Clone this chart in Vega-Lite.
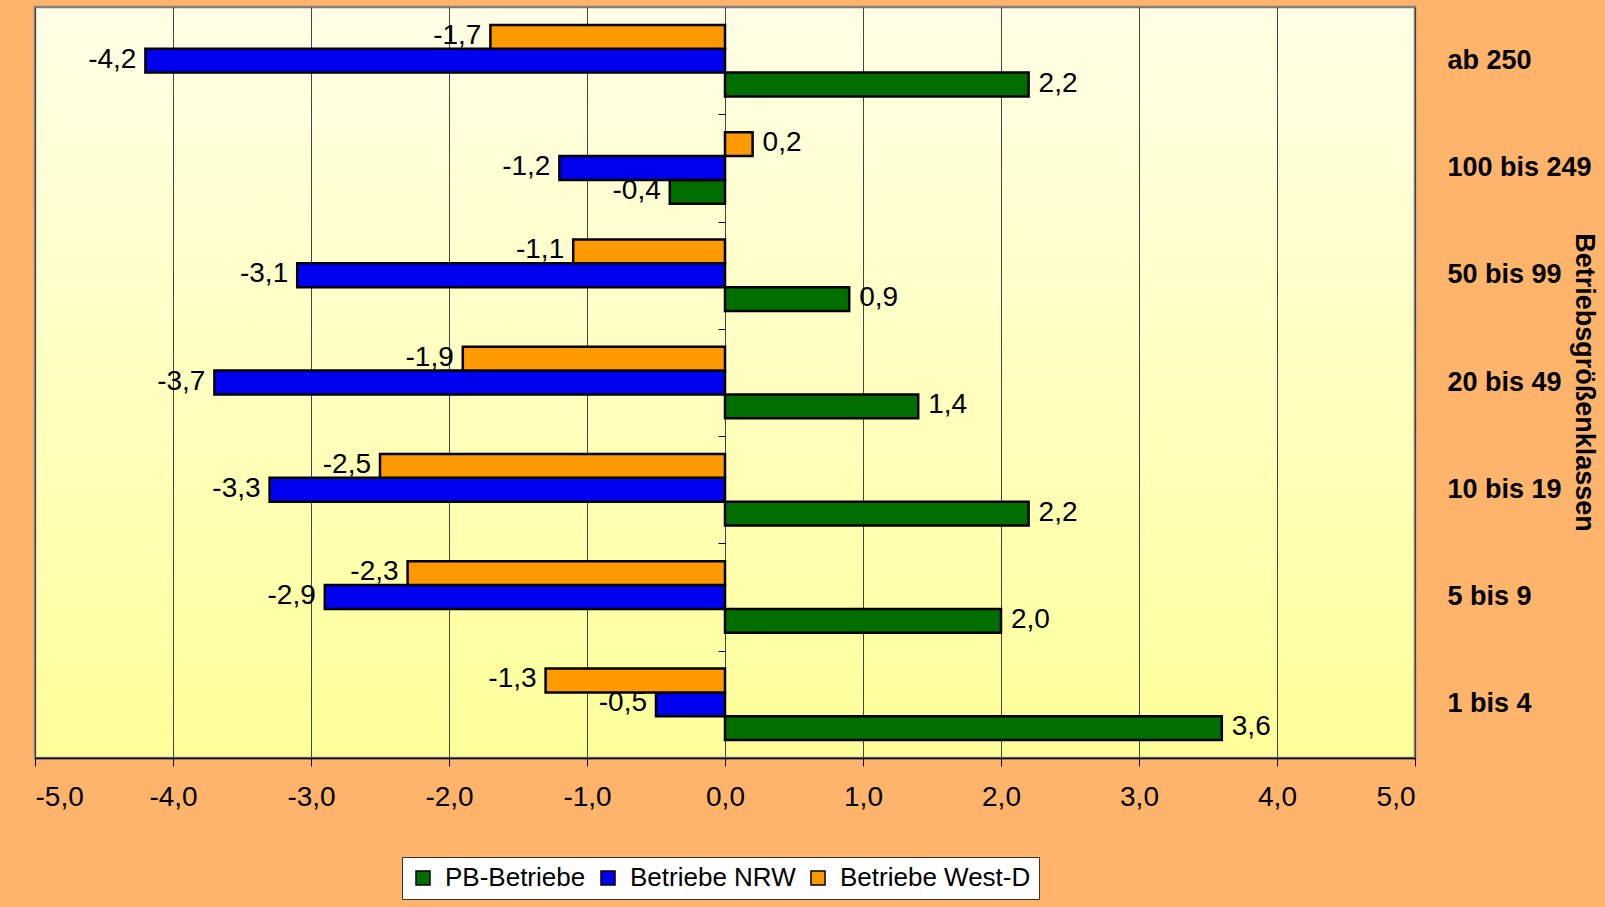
{
  "$schema": "https://vega.github.io/schema/vega-lite/v6.json",
  "autosize": {"type": "none"},
  "padding": {"left": 35, "top": 7, "right": 190, "bottom": 149},
  "width": 1380,
  "height": 751,
  "background": "#FFB46C",
  "config": {
    "locale": {"number": {"decimal": ",", "thousands": ".", "grouping": [3], "currency": ["", " €"], "minus": "-"}},
    "font": "Liberation Sans",
    "view": {
      "stroke": "#808080",
      "strokeWidth": 2.5,
      "fill": {"gradient": "linear", "x1": 0, "y1": 0, "x2": 0, "y2": 1, "stops": [{"offset": 0, "color": "#FFFEE6"}, {"offset": 1, "color": "#FFFF99"}]}
    }
  },
  "data": {
    "values": [
      {"klasse": "ab 250", "serie": "PB-Betriebe", "wert": 2.2},
      {"klasse": "ab 250", "serie": "Betriebe NRW", "wert": -4.2},
      {"klasse": "ab 250", "serie": "Betriebe West-D", "wert": -1.7},
      {"klasse": "100 bis 249", "serie": "PB-Betriebe", "wert": -0.4},
      {"klasse": "100 bis 249", "serie": "Betriebe NRW", "wert": -1.2},
      {"klasse": "100 bis 249", "serie": "Betriebe West-D", "wert": 0.2},
      {"klasse": "50 bis 99", "serie": "PB-Betriebe", "wert": 0.9},
      {"klasse": "50 bis 99", "serie": "Betriebe NRW", "wert": -3.1},
      {"klasse": "50 bis 99", "serie": "Betriebe West-D", "wert": -1.1},
      {"klasse": "20 bis 49", "serie": "PB-Betriebe", "wert": 1.4},
      {"klasse": "20 bis 49", "serie": "Betriebe NRW", "wert": -3.7},
      {"klasse": "20 bis 49", "serie": "Betriebe West-D", "wert": -1.9},
      {"klasse": "10 bis 19", "serie": "PB-Betriebe", "wert": 2.2},
      {"klasse": "10 bis 19", "serie": "Betriebe NRW", "wert": -3.3},
      {"klasse": "10 bis 19", "serie": "Betriebe West-D", "wert": -2.5},
      {"klasse": "5 bis 9", "serie": "PB-Betriebe", "wert": 2.0},
      {"klasse": "5 bis 9", "serie": "Betriebe NRW", "wert": -2.9},
      {"klasse": "5 bis 9", "serie": "Betriebe West-D", "wert": -2.3},
      {"klasse": "1 bis 4", "serie": "PB-Betriebe", "wert": 3.6},
      {"klasse": "1 bis 4", "serie": "Betriebe NRW", "wert": -0.5},
      {"klasse": "1 bis 4", "serie": "Betriebe West-D", "wert": -1.3}
    ]
  },
  "encoding": {
    "yOffset": {
      "field": "serie",
      "type": "nominal",
      "scale": {"domain": ["Betriebe West-D", "Betriebe NRW", "PB-Betriebe"], "paddingInner": 0, "paddingOuter": 0}
    },
    "x": {
      "field": "wert",
      "type": "quantitative",
      "scale": {"domain": [-5, 5], "nice": false, "zero": false},
      "axis": {
        "title": null,
        "values": [-5, -4, -3, -2, -1, 0, 1, 2, 3, 4, 5],
        "format": ".1f",
        "labelFontSize": 28,
        "labelColor": "black",
        "labelPadding": 17,
        "tickSize": 8,
        "tickColor": "black",
        "domainColor": "black",
        "domainWidth": 1.5,
        "grid": true,
        "gridColor": "#444444",
        "gridWidth": 1,
        "gridOpacity": 1
      }
    }
  },
  "layer": [
    {
      "mark": {"type": "bar", "stroke": "black", "strokeWidth": 2.5, "cornerRadius": 0},
      "encoding": {
        "y": {
          "field": "klasse",
          "type": "nominal",
          "sort": ["ab 250", "100 bis 249", "50 bis 99", "20 bis 49", "10 bis 19", "5 bis 9", "1 bis 4"],
          "scale": {"paddingInner": 0.333, "paddingOuter": 0.167},
          "axis": {
            "orient": "right",
            "title": "Betriebsgrößenklassen",
            "titleFontSize": 27,
            "titleFontWeight": "bold",
            "titleAngle": 90,
            "titleAlign": "center",
            "titleBaseline": "middle",
            "titleX": 168,
            "titleY": 375,
            "titleColor": "black",
            "labelFontSize": 27,
            "labelFontWeight": "bold",
            "labelColor": "black",
            "labelPadding": 32,
            "labelAlign": "left",
            "labelLimit": 300,
            "ticks": false,
            "domain": false,
            "grid": false
          }
        },
        "color": {
          "field": "serie",
          "type": "nominal",
          "scale": {"domain": ["PB-Betriebe", "Betriebe NRW", "Betriebe West-D"], "range": ["#006F00", "#0000F0", "#FF9900"]},
          "legend": {
            "orient": "none",
            "legendX": 367,
            "legendY": 850,
            "direction": "horizontal",
            "title": null,
            "fillColor": "white",
            "strokeColor": "#333333",
            "padding": 8,
            "labelFontSize": 26,
            "labelColor": "black",
            "labelFont": "Liberation Sans",
            "labelLimit": 400,
            "symbolType": "square",
            "symbolSize": 196,
            "symbolStrokeColor": "black",
            "symbolStrokeWidth": 1.5,
            "symbolOpacity": 1,
            "labelOffset": 9,
            "columnPadding": 9
          }
        }
      }
    },
    {
      "transform": [{"filter": "datum.wert < 0"}],
      "mark": {"type": "text", "align": "right", "baseline": "middle", "dx": -9, "dy": -1, "fontSize": 28, "color": "black"},
      "encoding": {
        "y": {
          "field": "klasse",
          "type": "nominal",
          "sort": ["ab 250", "100 bis 249", "50 bis 99", "20 bis 49", "10 bis 19", "5 bis 9", "1 bis 4"],
          "axis": null
        },
        "text": {"field": "wert", "type": "quantitative", "format": ".1f"}
      }
    },
    {
      "transform": [{"filter": "datum.wert >= 0"}],
      "mark": {"type": "text", "align": "left", "baseline": "middle", "dx": 10, "dy": -1, "fontSize": 28, "color": "black"},
      "encoding": {
        "y": {
          "field": "klasse",
          "type": "nominal",
          "sort": ["ab 250", "100 bis 249", "50 bis 99", "20 bis 49", "10 bis 19", "5 bis 9", "1 bis 4"],
          "axis": {
            "orient": "left",
            "offset": -690,
            "title": null,
            "labels": false,
            "domain": false,
            "grid": false,
            "ticks": true,
            "tickBand": "center",
            "tickOffset": 53.65,
            "tickSize": 7,
            "tickColor": "black",
            "tickWidth": 1
          }
        },
        "text": {"field": "wert", "type": "quantitative", "format": ".1f"}
      }
    }
  ],
  "resolve": {"axis": {"y": "independent"}}
}
